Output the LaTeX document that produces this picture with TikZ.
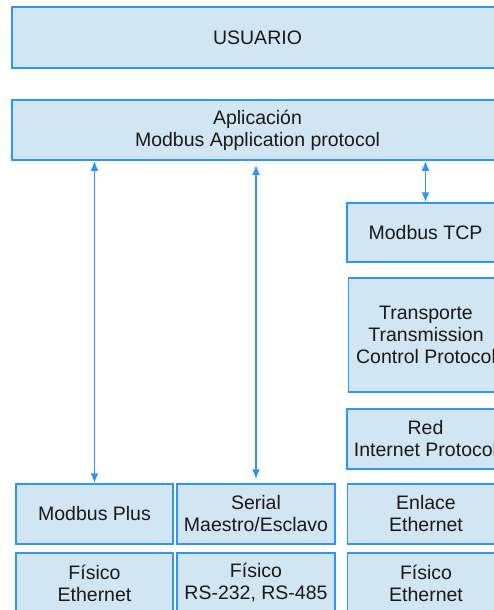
\documentclass[tikz,border=0pt]{standalone}
\usepackage{fontspec}
\setmainfont{Liberation Sans}
\usetikzlibrary{arrows.meta}
\definecolor{layerfill}{RGB}{209,229,243}
\definecolor{layerline}{RGB}{45,150,245}
\begin{document}
\begin{tikzpicture}[
    x=1pt, y=-1pt,
    layer/.style={rectangle, draw=layerline, fill=layerfill, line width=1.5pt,
        align=center, inner sep=0pt, text=black!90,
        font=\fontsize{19.5}{22}\selectfont, minimum height=60pt},
    wide/.style={layer, minimum width=491pt},
    stack/.style={layer, minimum width=157pt},
    link/.style={{Latex[length=10pt,width=8pt]}-{Latex[length=10pt,width=8pt]},
        layerline, line width=1.8pt},
]
\useasboundingbox (0,0) rectangle (494,610);
\clip (0,0) rectangle (494,610);

% === Top layers ===
\node[wide, minimum height=61pt] (user) at (257.5,37.5) {USUARIO};
\node[wide] (app) at (257.5,130) {Aplicaci\'on\\Modbus Application protocol};

% === TCP/IP stack (right column) ===
\node[stack, minimum height=59pt] (tcp) at (425.5,232.5) {Modbus TCP};
\node[stack, minimum width=155pt, minimum height=114pt] (transp) at (426,335)
    {Transporte\\Transmission\\Control Protocol};
\node[stack] (red) at (425.5,439) {Red\\Internet Protocol};
\node[stack] (enlace) at (426,514) {Enlace\\Ethernet};
\node[stack] (fis3) at (426,583) {F\'isico\\Ethernet};

% === Modbus Plus (left column) ===
\node[stack] (plus) at (94.5,514) {Modbus Plus};
\node[stack] (fis1) at (94.5,583) {F\'isico\\Ethernet};

% === Serial (middle column) ===
\node[stack, minimum width=158pt] (serial) at (256,514) {Serial\\Maestro/Esclavo};
\node[stack, minimum width=158pt] (fis2) at (256,583) {F\'isico\\RS-232, RS-485};

% Links to the application layer
\draw[link] (app.south -| plus.north) -- (plus.north);
\draw[link, shorten <=4pt, shorten >=4pt] (app.south -| serial.north) -- (serial.north);
\draw[link] (app.south -| tcp.north) -- (tcp.north);

\end{tikzpicture}
\end{document}
